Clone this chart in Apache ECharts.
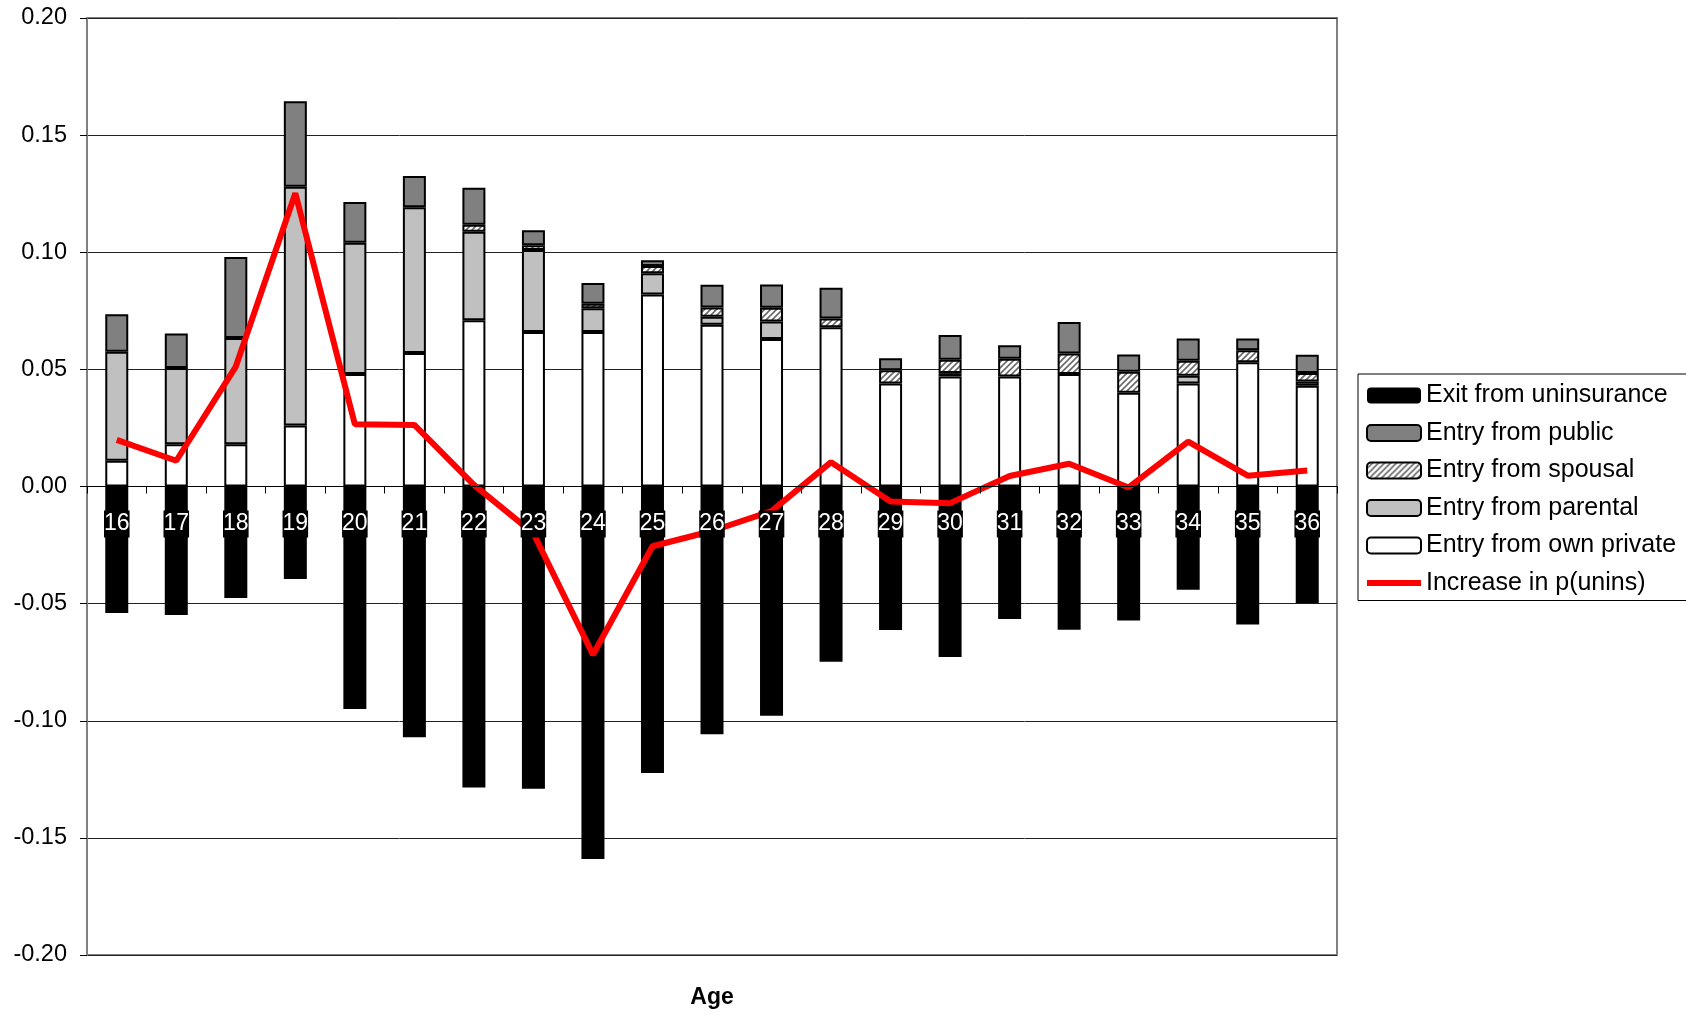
<!DOCTYPE html>
<html>
<head>
<meta charset="utf-8">
<script src="https://cdn.jsdelivr.net/npm/echarts@6/dist/echarts.min.js"></script>
<style>
html,body{margin:0;padding:0;background:#fff;}
#chart{width:1686px;height:1015px;}
</style>
</head>
<body>
<div id="chart"></div>
<script>
var ages = ['16','17','18','19','20','21','22','23','24','25','26','27','28','29','30','31','32','33','34','35','36'];
var yTicks = [-0.20,-0.15,-0.10,-0.05,0.00,0.05,0.10,0.15,0.20];
var ownPrivate = [0.011,0.018,0.018,0.026,0.048,0.057,0.071,0.066,0.066,0.082,0.069,0.063,0.068,0.044,0.047,0.047,0.048,0.040,0.044,0.053,0.043];
var parental   = [0.0465,0.0326,0.0454,0.102,0.0561,0.0622,0.0377,0.035,0.0101,0.009,0.0035,0.0074,null,null,0.0014,null,null,null,0.0033,null,0.0018];
var spousal    = [null,null,null,null,null,null,0.003,0.002,0.0019,0.0031,0.0039,0.0059,0.0037,0.0056,0.0057,0.0075,0.0088,0.009,0.0064,0.0052,0.0036];
var publicIns  = [0.016,0.0147,0.0346,0.0365,0.0173,0.0133,0.0158,0.0064,0.0089,0.0025,0.0097,0.0099,0.0131,0.0051,0.0106,0.0058,0.0134,0.0074,0.0095,0.005,0.0078];
var exitUnins  = [-0.054,-0.0549,-0.0476,-0.0395,-0.095,-0.107,-0.1285,-0.129,-0.159,-0.1223,-0.1058,-0.0979,-0.0748,-0.0613,-0.0728,-0.0566,-0.0612,-0.0572,-0.0441,-0.0589,-0.0498];
var increase   = [0.0199,0.011,0.0512,0.1252,0.0266,0.0263,0.0007,-0.020,-0.0718,-0.0255,-0.0190,-0.0105,0.0104,-0.0064,-0.0071,0.0045,0.0097,-0.0004,0.0192,0.0046,0.0068];

var FONT = "'Liberation Sans', Arial, sans-serif";

// hatch pattern for spousal
var pc = document.createElement('canvas');
pc.width = 6; pc.height = 6;
var px = pc.getContext('2d');
px.fillStyle = '#ffffff';
px.fillRect(0,0,6,6);
px.strokeStyle = '#6a6a6a';
px.lineWidth = 1.6;
px.beginPath();
px.moveTo(-1,7); px.lineTo(7,-1);
px.moveTo(-4,4); px.lineTo(4,-4);
px.moveTo(2,10); px.lineTo(10,2);
px.stroke();
var hatch = {image: pc, repeat: 'repeat'};

var GRID_TOP = 18, GRID_BOTTOM = 60, H = 1015;
var gridH = H - GRID_TOP - GRID_BOTTOM;
var yMin = -0.2, yMax = 0.2;
var zeroOffset = -gridH * (0 - yMin) / (yMax - yMin);

var chart = echarts.init(document.getElementById('chart'), null, {renderer:'canvas'});
var barBase = {type:'bar', stack:'a', barWidth:23, animation:false};
function bs(name, data, color, border){
  return Object.assign({}, barBase, {
    name:name, data:data,
    itemStyle:{color:color, borderColor:'#000', borderWidth:border}
  });
}
var lineIcon = 'path://M0,0 L0.01,0 L0.01,0.01 Z M0,5 L54,5 L54,11 L0,11 Z M0,16 L0.01,16 L0.01,15.99 Z';
var option = {
  animation:false,
  backgroundColor:'#fff',
  grid:{left:87, right:349, top:GRID_TOP, bottom:GRID_BOTTOM, show:true, borderColor:'#808080', borderWidth:2, backgroundColor:'transparent'},
  legend:{
    orient:'vertical', left:1358, top:374,
    padding:[9,40,5,8],
    borderColor:'#000', borderWidth:1, backgroundColor:'#fff',
    itemWidth:54, itemHeight:16, itemGap:12.5,
    textStyle:{fontFamily:FONT, fontSize:25, color:'#000', lineHeight:24},
    data:['Exit from uninsurance','Entry from public','Entry from spousal','Entry from parental','Entry from own private',
      {name:'Increase in p(unins)', icon:lineIcon}]
  },
  xAxis:{
    type:'category', data:ages, z:20, position:'bottom', offset:zeroOffset,
    axisLine:{onZero:false, lineStyle:{color:'#000', width:1}},
    axisTick:{show:true, length:7, lineStyle:{color:'#000'}},
    axisLabel:{margin:24, fontFamily:FONT, fontSize:23, color:'#fff', backgroundColor:'#000', padding:[2,0,2,0]}
  },
  yAxis:{
    type:'value', min:yMin, max:yMax, interval:0.05,
    axisLine:{show:true, lineStyle:{color:'#808080', width:2}},
    axisTick:{show:true, length:7, lineStyle:{color:'#000'}},
    splitLine:{lineStyle:{color:'#222', width:1}},
    axisLabel:{margin:20, fontFamily:FONT, fontSize:23.5, color:'#000', formatter:function(v){return v.toFixed(2);}}
  },
  graphic:[{type:'text', x:712, y:998, style:{text:'Age', font:"bold 23px 'Liberation Sans', Arial, sans-serif", fill:'#000', textAlign:'center', textVerticalAlign:'middle'}}],
  series:[
    bs('Entry from own private', ownPrivate, '#ffffff', 2),
    bs('Entry from parental', parental, '#c0c0c0', 2),
    bs('Entry from spousal', spousal, hatch, 2),
    bs('Entry from public', publicIns, '#808080', 2),
    bs('Exit from uninsurance', exitUnins, '#000000', 0),
    {type:'line', name:'Increase in p(unins)', data:increase, showSymbol:false, symbol:'none', z:5,
     lineStyle:{color:'#ff0000', width:6}, itemStyle:{color:'#ff0000'}, animation:false}
  ]
};
chart.setOption(option);
</script>
</body>
</html>
